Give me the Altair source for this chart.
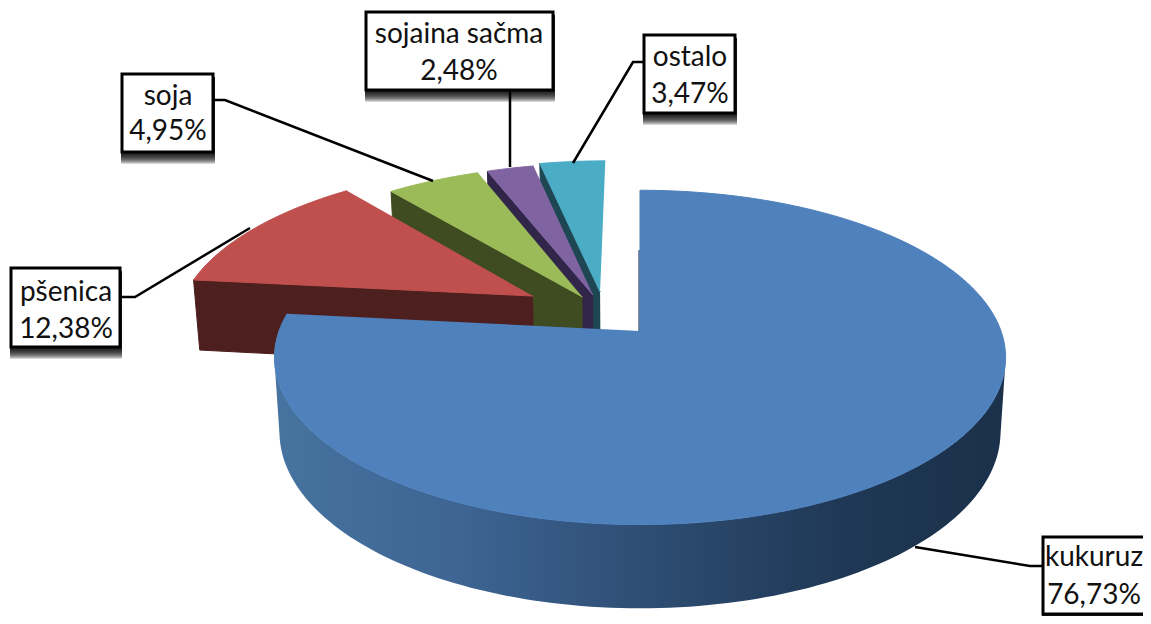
import math
import altair as alt
import pandas as pd

# ---- data ----
names = ["kukuruz", "pšenica", "soja", "sojaina sačma", "ostalo"]
values = [76.73, 12.38, 4.95, 2.48, 3.47]
value_labels = ["76,73%", "12,38%", "4,95%", "2,48%", "3,47%"]

# ---- styles and layout ----
top_colors = ["#4F81BD", "#C0504D", "#9BBB59", "#8064A2", "#4BACC6"]
side_colors = ["#1C3350", "#4D1F1E", "#3F4B20", "#32254A", "#1E4653"]
explode_u = [0.0, -0.307, -0.165, -0.135, -0.115]
explode_v = [0.0, 0.222, 0.216, 0.229, 0.25]
wall_stops = [(0.0, "#46739F"), (0.25, "#3E6594"), (0.5, "#2E4E74"), (0.78, "#1F3855"), (1.0, "#1B304A")]
box_left = [1043, 11, 122, 366, 644]
box_right = [1170, 120, 213, 553, 735]
box_top = [537, 268, 74, 12, 35]
box_bottom = [614, 347, 152, 90, 113]
text_x = [1094, 66, 168, 459, 690]
line1_y = [558, 293, 97, 35, 58]
line2_y = [596, 330, 132, 72, 95]
leaders = [
    [(1043, 566), (1030, 566), (915, 547)],
    [(120, 297), (135, 297), (250, 228)],
    [(213, 100), (225, 100), (433, 181)],
    [(510, 90), (510, 167)],
    [(644, 62), (633, 62), (573, 163)],
]
edge_line = [(639, 250), (639, 331)]
P = 0.158
TOP = dict(cx=640, cy=331, r=361, a=163)
BOT = dict(cx=640, cy=404, r=356, a=172)


def proj(u, v, e):
    d = 1 + P * v
    return e["cx"] + e["r"] * u / d, e["cy"] - e["a"] * v / d


def rim(theta_deg, ou, ov, e):
    t = math.radians(theta_deg)
    return proj(math.sin(t) + ou, math.cos(t) + ov, e)


total = sum(values)
starts, a = [], 0.0
for val in values:
    starts.append(a)
    a += val / total * 360
ends = starts[1:] + [360.0]


def poly_rows(store, pts, color):
    g = f"{len(set(r['g'] for r in store)):05d}"
    for i, (x, y) in enumerate(pts):
        store.append({"g": g, "i": i, "x": x, "y": y, "c": color})


back_rows = []
for k in [4, 3, 2, 1]:
    ou, ov = explode_u[k], explode_v[k]
    s, t = starts[k], ends[k]
    poly_rows(back_rows, [proj(ou, ov, TOP), rim(s, ou, ov, TOP), rim(s, ou, ov, BOT), proj(ou, ov, BOT)], side_colors[k])
    n = 24
    arc = [rim(s + (t - s) * j / n, ou, ov, TOP) for j in range(n + 1)]
    poly_rows(back_rows, [proj(ou, ov, TOP)] + arc, top_colors[k])

# outer wall of the big slice, from silhouette to silhouette
lo, hi, steps = 100.0, 260.0, 120
wall_pts = [rim(lo + (hi - lo) * j / steps, 0, 0, TOP) for j in range(steps + 1)]
wall_pts += [rim(hi - (hi - lo) * j / steps, 0, 0, BOT) for j in range(steps + 1)]
wall_rows = []
poly_rows(wall_rows, wall_pts, "wall")

face_rows = []
n = 180
arc = [rim(starts[0] + (ends[0] - starts[0]) * j / n, 0, 0, TOP) for j in range(n + 1)]
poly_rows(face_rows, [proj(0, 0, TOP)] + arc, top_colors[0])

x_enc = alt.X("x:Q", scale=alt.Scale(domain=[8, 1143], range=[0, 1135], nice=False, zero=False), axis=None)
y_enc = alt.Y("y:Q", scale=alt.Scale(domain=[8, 616], range=[0, 608], nice=False, zero=False), axis=None)


def flat(rows):
    return alt.Chart(pd.DataFrame(rows)).mark_line(strokeWidth=1, clip=True, strokeJoin="round").encode(
        x=x_enc, y=y_enc,
        detail="g:N",
        order="i:Q",
        stroke=alt.Stroke("c:N", scale=None),
        fill=alt.Fill("c:N", scale=None),
    )


wall = alt.Chart(pd.DataFrame(wall_rows)).mark_line(
    strokeWidth=0,
    clip=True,
    fill=alt.Gradient(
        gradient="linear", x1=0, x2=1, y1=0, y2=0,
        stops=[alt.GradientStop(offset=o, color=c) for o, c in wall_stops],
    ),
).encode(x=x_enc, y=y_enc, detail="g:N", order="i:Q")

edge = alt.Chart(pd.DataFrame({"x": [p[0] for p in edge_line], "y": [p[1] for p in edge_line]})).mark_line(
    color="#2A4A75", strokeWidth=1.5, opacity=0.8
).encode(x=x_enc, y=y_enc)

leader_df = pd.DataFrame(
    [{"k": k, "i": i, "x": p[0], "y": p[1]} for k, pts in enumerate(leaders) for i, p in enumerate(pts)]
)
lead = alt.Chart(leader_df).mark_line(color="#000000", strokeWidth=2.5, clip=True).encode(
    x=x_enc, y=y_enc, detail="k:N", order="i:Q"
)

shadow_rows = []
for l, r, t, b in zip(box_left, box_right, box_top, box_bottom):
    for m in range(1, 13):
        shadow_rows.append({"x": l - 1, "x2": r + 2, "y": t + 3, "y2": b + m})
shadow = alt.Chart(pd.DataFrame(shadow_rows)).mark_rect(color="#000000", opacity=0.16, clip=True).encode(
    x=x_enc, x2="x2:Q", y=y_enc, y2="y2:Q"
)

box_df = pd.DataFrame({"x": box_left, "x2": box_right, "y": box_top, "y2": box_bottom})
boxes = alt.Chart(box_df).mark_rect(fill="#FFFFFF", stroke="#000000", strokeWidth=3, clip=True).encode(
    x=x_enc, x2="x2:Q", y=y_enc, y2="y2:Q"
)

text_df = pd.DataFrame(
    {"x": text_x * 2, "y": line1_y + line2_y, "t": names + value_labels}
)
texts = alt.Chart(text_df).mark_text(
    font="Lato", fontSize=28, color="#111111", align="center", baseline="middle", clip=True
).encode(x=x_enc, y=y_enc, text="t:N")

chart = (
    alt.layer(flat(back_rows), wall, flat(face_rows), edge, lead, shadow, boxes, texts)
    .properties(width=1135, height=608, padding=0, background="#FFFFFF")
    .configure_view(stroke=None)
)
chart.save("out.html", embed_options={"renderer": "svg", "actions": False})
